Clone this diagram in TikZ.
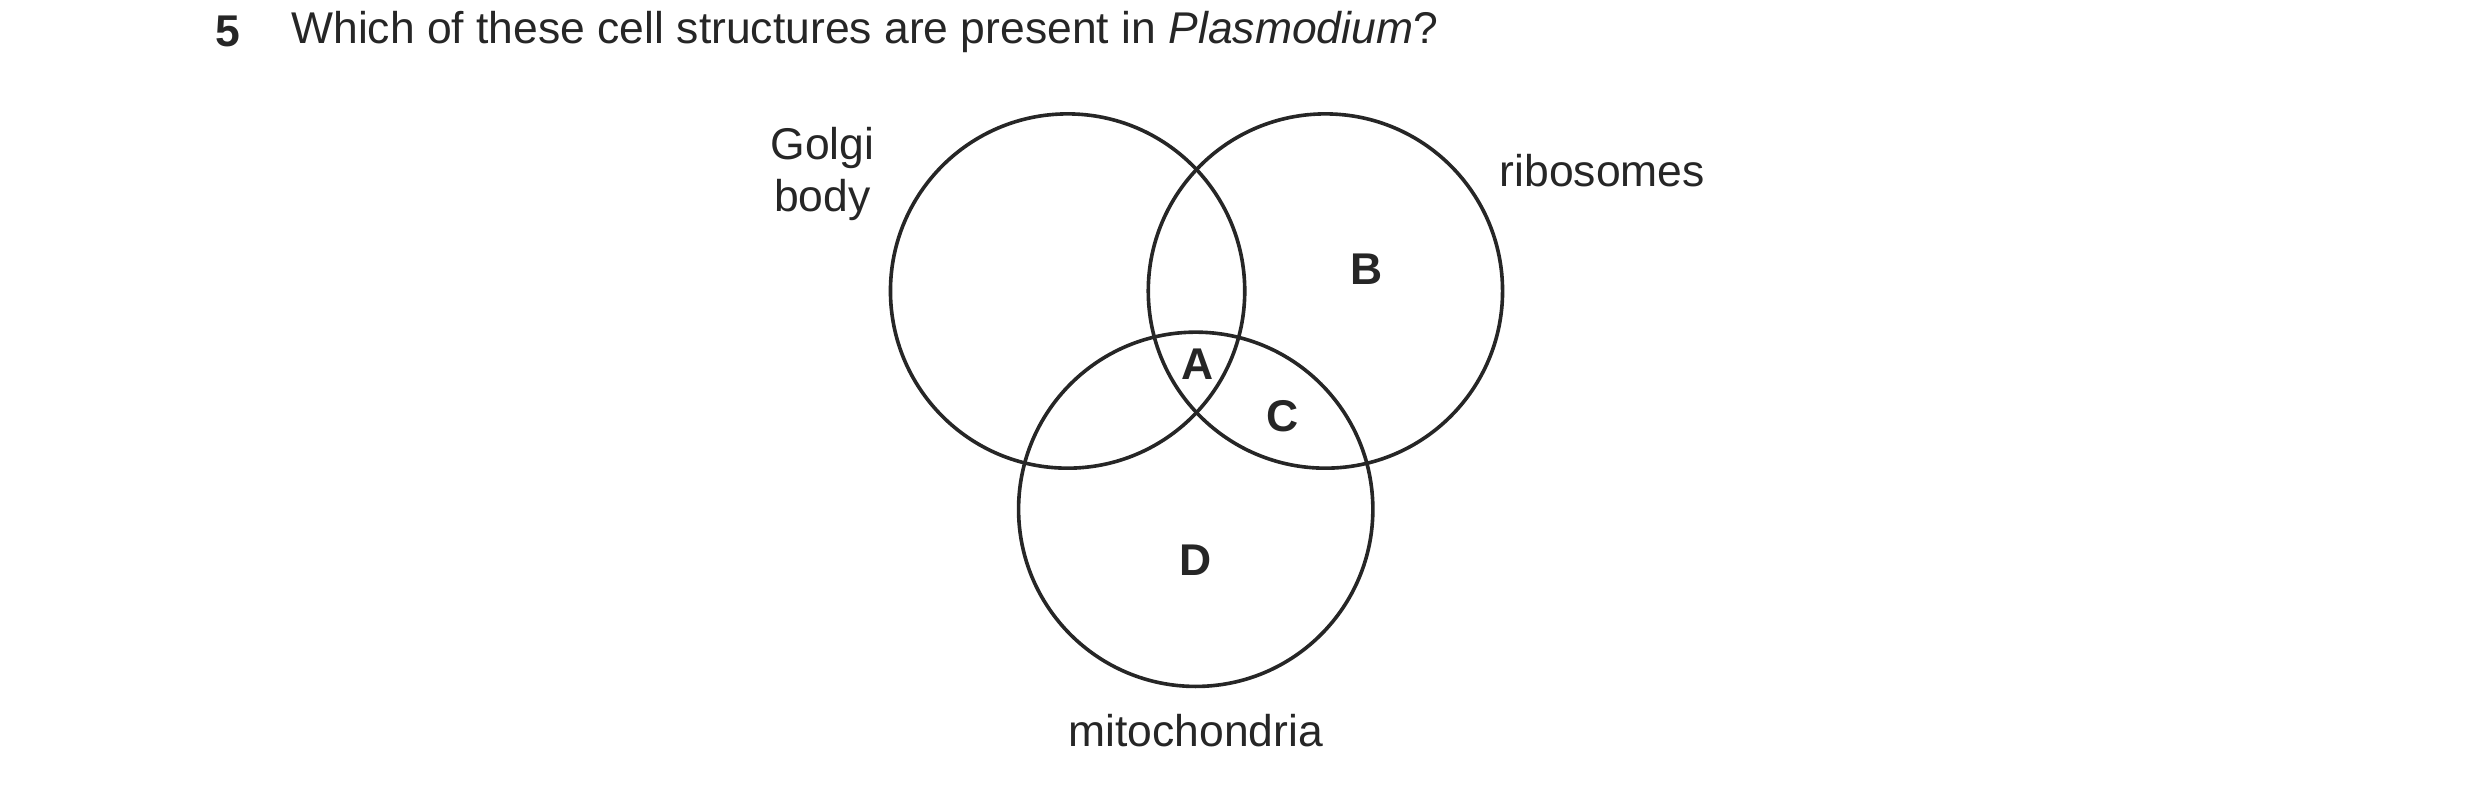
\documentclass[tikz,border=0pt]{standalone}
\usepackage{fontspec}
\setmainfont{Liberation Sans}
\usetikzlibrary{positioning}

\begin{document}
\begin{tikzpicture}[x=0.02cm, y=-0.02cm, set/.style={draw=black!85, line width=1.3pt}, lbl/.style={font=\fontsize{16}{19}\selectfont, align=center, text=black!85}, region/.style={font=\fontsize{16}{19}\selectfont\bfseries, text=black!85}]
  \useasboundingbox (0,0) rectangle (1568,498);
  \coordinate (golgi) at (675,184);
  \coordinate (ribo) at (838,184);
  \coordinate (mito) at (756,322);
  \draw[set] (golgi) circle (112);
  \draw[set] (ribo) circle (112);
  \draw[set] (mito) circle (112);
  \node[lbl, anchor=west] (num) at (130,20) {\textbf{5}};
  \node[lbl, anchor=west] (question) at (178,20) {Which of these cell structures are present in \textit{Plasmodium}?};
  \node[lbl] (golgilbl) at (520,110) {Golgi\\body};
  \node[lbl] (ribolbl) at (1013,108) {ribosomes};
  \node[lbl] (mitolbl) at (756,462) {mitochondria};
  \node[region] (A) at (757,230) {A};
  \node[region] (B) at (864,170) {B};
  \node[region] (C) at (811,263) {C};
  \node[region] (D) at (756,354) {D};
\end{tikzpicture}
\end{document}
